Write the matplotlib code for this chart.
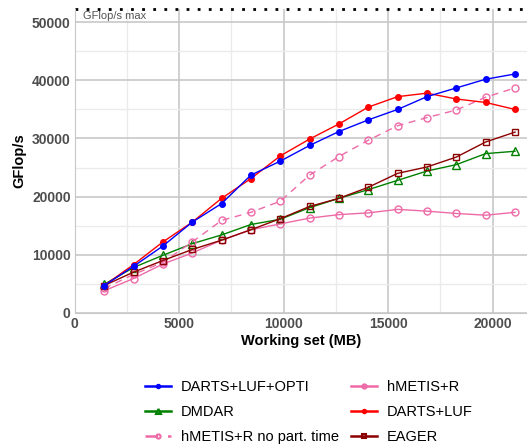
import matplotlib
matplotlib.use("Agg")
import matplotlib.pyplot as plt
from matplotlib.ticker import MultipleLocator

plt.rcParams['font.family'] = ['Liberation Sans', 'DejaVu Sans']

# working set sizes (MB)
working_set = [1405, 2810, 4215, 5620, 7025, 8430, 9835, 11240,
               12645, 14050, 15455, 16860, 18265, 19670, 21075]

darts_luf_opti = [4.7, 8.0, 11.5, 15.6, 18.8, 23.7, 26.1, 28.8,
                  31.2, 33.2, 35.0, 37.2, 38.7, 40.2, 41.1]
darts_luf = [4.7, 8.3, 12.2, 15.6, 19.7, 23.1, 27.0, 29.9,
             32.5, 35.4, 37.2, 37.8, 36.8, 36.2, 35.0]
hmetis_nopart = [4.2, 6.6, 8.7, 12.2, 15.9, 17.3, 19.2, 23.7,
                 26.9, 29.7, 32.2, 33.6, 34.9, 37.1, 38.7]
hmetis = [3.8, 5.9, 8.4, 10.3, 12.5, 14.3, 15.3, 16.3,
          16.9, 17.2, 17.8, 17.5, 17.1, 16.8, 17.3]
dmdar = [4.9, 7.8, 9.9, 11.9, 13.4, 15.2, 16.1, 18.1,
         19.7, 21.2, 22.8, 24.4, 25.5, 27.4, 27.8]
eager = [4.7, 7.0, 9.0, 10.9, 12.5, 14.3, 16.2, 18.3,
         19.7, 21.6, 24.0, 25.1, 26.8, 29.4, 31.1]

gflops_max = 52300

fig = plt.figure(figsize=(5.27, 4.45), dpi=100)
ax = fig.add_axes([0.142, 0.297, 0.858, 0.683])

k = lambda v: [x * 1000 for x in v]

ax.plot(working_set, k(darts_luf_opti), color="#0000ff", marker="o", ms=4, lw=1,
        label="DARTS+LUF+OPTI", zorder=5)
ax.plot(working_set, k(dmdar), color="#008000", marker="^", ms=6, mfc="none", lw=1,
        label="DMDAR")
ax.plot(working_set, k(hmetis_nopart), color="#ee6aa7", marker="o", ms=5, mfc="none",
        lw=1, ls=(0, (5, 4)), label="hMETIS+R no part. time")
ax.plot(working_set, k(hmetis), color="#ee6aa7", marker="o", ms=5, mfc="none", lw=1,
        label="hMETIS+R")
ax.plot(working_set, k(darts_luf), color="#ff0000", marker="o", ms=4, lw=1,
        label="DARTS+LUF", zorder=4)
ax.plot(working_set, k(eager), color="#8b0000", marker="s", ms=5, mfc="none", lw=1,
        label="EAGER")

ax.axhline(gflops_max, color="black", ls=(0, (1, 3)), lw=2, clip_on=False)
ax.text(400, gflops_max - 400, "GFlop/s max", color="#555555", fontsize=8, va="top")

ax.set_xlim(0, 21650)
ax.set_ylim(0, gflops_max)
ax.xaxis.set_major_locator(MultipleLocator(5000))
ax.xaxis.set_minor_locator(MultipleLocator(2500))
ax.yaxis.set_major_locator(MultipleLocator(10000))
ax.yaxis.set_minor_locator(MultipleLocator(5000))
ax.grid(which="major", color="#c8c8c8", lw=1.2)
ax.grid(which="minor", color="#ebebeb", lw=1)
ax.set_axisbelow(True)
for s in ["top", "right"]:
    ax.spines[s].set_visible(False)
for s in ["left", "bottom"]:
    ax.spines[s].set_color("#c8c8c8")
ax.tick_params(which="both", length=0, labelsize=10, labelcolor="#4d4d4d", pad=3)
for lab in ax.get_xticklabels() + ax.get_yticklabels():
    lab.set_fontweight("bold")

ax.set_xlabel("Working set (MB)", fontweight="bold", fontsize=10.5, labelpad=2)
ax.set_ylabel("GFlop/s", fontweight="bold", fontsize=10.5, labelpad=4)

leg = fig.legend(loc="upper center", bbox_to_anchor=(0.586, 0.175), ncol=2,
                 frameon=False, fontsize=10.5, handlelength=1.8, handletextpad=0.7,
                 columnspacing=0.8, labelspacing=0.75, markerscale=0.6)
for h in leg.legend_handles:
    h.set_linewidth(1.8)
    h.set_markeredgewidth(1.5)

fig.savefig("out.png", dpi=100)
